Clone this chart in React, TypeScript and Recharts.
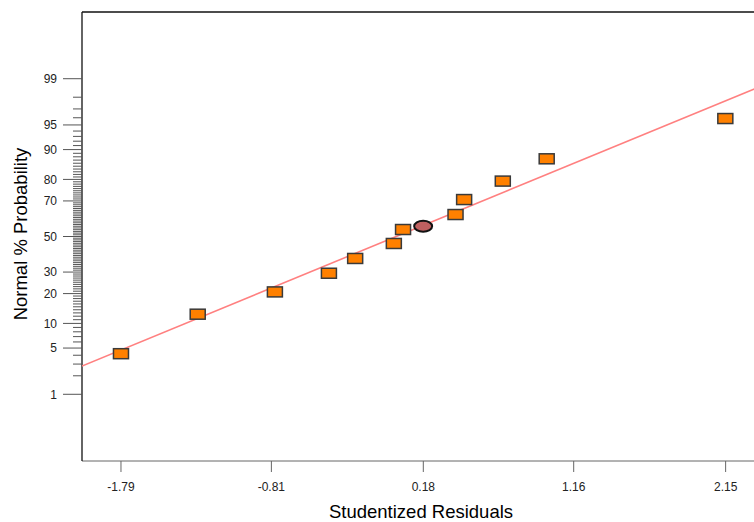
import React from 'react';
import { ComposedChart, Scatter, XAxis, YAxis, ReferenceLine, Label } from 'recharts';

// residuals (x) and normal % probability (y)
const residuals = [-1.79, -1.29, -0.787, -0.435, -0.264, -0.012, 0.048, 0.39, 0.446, 0.698, 0.984, 2.148];
const probabilities = [4.2, 12.6, 20.7, 29.4, 37.3, 45.9, 54.1, 62.7, 70.7, 79.3, 87.4, 95.9];

// highlighted run (drawn as an ellipse)
const highlightResidual = [0.179];
const highlightProbability = [56.0];

// fitted normal line end points
const fitResiduals = [-2.044, 2.4];
const fitProbabilities = [2.81, 98.73];

const xTicks = [-1.79, -0.81, 0.18, 1.16, 2.15];
const majorProbs = [1, 5, 10, 20, 30, 50, 70, 80, 90, 95, 99];

const X_DOMAIN: [number, number] = [-2.044, 2.4];
const Y_DOMAIN: [number, number] = [-3.31, 3.31];

// inverse normal cdf (Acklam)
const probit = (p: number): number => {
  const a = [-39.69683028665376, 220.9460984245205, -275.9285104469687, 138.357751867269, -30.66479806614716, 2.506628277459239];
  const b = [-54.47609879822406, 161.5858368580409, -155.6989798598866, 66.80131188771972, -13.28068155211918];
  const c = [-0.007784894002430293, -0.3223964580411365, -2.400758277161838, -2.549732539343734, 4.374664141464968, 2.938163982698783];
  const d = [0.007784695709041462, 0.3224671290700398, 2.445134137142996, 3.754408661907416];
  const pl = 0.02425;
  if (p < pl) {
    const q = Math.sqrt(-2 * Math.log(p));
    return (((((c[0] * q + c[1]) * q + c[2]) * q + c[3]) * q + c[4]) * q + c[5]) / ((((d[0] * q + d[1]) * q + d[2]) * q + d[3]) * q + 1);
  }
  if (p > 1 - pl) {
    const q = Math.sqrt(-2 * Math.log(1 - p));
    return -(((((c[0] * q + c[1]) * q + c[2]) * q + c[3]) * q + c[4]) * q + c[5]) / ((((d[0] * q + d[1]) * q + d[2]) * q + d[3]) * q + 1);
  }
  const q = p - 0.5;
  const r = q * q;
  return ((((((a[0] * r + a[1]) * r + a[2]) * r + a[3]) * r + a[4]) * r + a[5]) * q) / (((((b[0] * r + b[1]) * r + b[2]) * r + b[3]) * r + b[4]) * r + 1);
};

const toPoints = (xs: number[], ps: number[]) => xs.map((x, i) => ({ x, p: ps[i], z: probit(ps[i] / 100) }));

const points = toPoints(residuals, probabilities);
const highlight = toPoints(highlightResidual, highlightProbability);
const fitLine = toPoints(fitResiduals, fitProbabilities);

// every whole percent gets a minor tick, majors get labels
const yTickList: { p: number; major: boolean; z: number }[] = [];
for (let p = 1; p <= 99; p++) {
  yTickList.push({ p, major: majorProbs.includes(p), z: probit(p / 100) });
}
const yTicks = yTickList.map((t) => t.z);

const font = "'Liberation Sans', Arial, sans-serif";

const ProbTick = (props: any) => {
  const { x, y, payload } = props;
  const t = yTickList.find((k) => Math.abs(k.z - payload.value) < 1e-9);
  if (!t) return null;
  return (
    <g>
      <line x1={x - (t.major ? 19 : 9)} x2={x} y1={y} y2={y} stroke="#555" strokeWidth={1} />
      {t.major && (
        <text x={x - 25} y={y} dy="0.36em" textAnchor="end" fontSize={12} fill="#222" fontFamily={font}>
          {t.p}
        </text>
      )}
    </g>
  );
};

const RectMark = (props: any) => {
  const { cx, cy } = props;
  return <rect x={cx - 7.5} y={cy - 5} width={15} height={10} fill="#ff8000" stroke="#3a3a3a" strokeWidth={1.5} />;
};

const EllipseMark = (props: any) => {
  const { cx, cy } = props;
  return <ellipse cx={cx} cy={cy} rx={9} ry={5.5} fill="#c06060" stroke="#111" strokeWidth={2} />;
};

const NoMark = () => <g />;

export default function App() {
  return (
    <div style={{ position: 'absolute', left: 0, top: 0, width: 754, height: 522, overflow: 'hidden', background: '#fff' }}>
      <ComposedChart width={780} height={522} margin={{ top: 12, right: 16, left: 12, bottom: 21 }}>
        <XAxis
          type="number"
          dataKey="x"
          domain={X_DOMAIN}
          allowDataOverflow
          ticks={xTicks}
          interval={0}
          height={40}
          tickSize={11}
          tickMargin={10}
          stroke="#666"
          tick={{ fill: '#222', fontSize: 12, fontFamily: font }}
          tickFormatter={(v: number) => v.toFixed(2)}
        >
          <Label
            content={() => (
              <text x={421} y={518} textAnchor="middle" fontSize={18.5} fill="#000" fontFamily={font}>
                Studentized Residuals
              </text>
            )}
          />
        </XAxis>
        <YAxis
          type="number"
          dataKey="z"
          domain={Y_DOMAIN}
          allowDataOverflow
          ticks={yTicks}
          interval={0}
          width={70}
          tickSize={0}
          tickMargin={0}
          tickLine={false}
          axisLine={{ stroke: '#111', strokeWidth: 1.3 }}
          tick={<ProbTick />}
        >
          <Label
            content={() => (
              <text x={27} y={234} transform="rotate(-90, 27, 234)" textAnchor="middle" fontSize={18.5} fill="#000" fontFamily={font}>
                Normal % Probability
              </text>
            )}
          />
        </YAxis>
        <ReferenceLine y={Y_DOMAIN[1]} stroke="#111" strokeWidth={1.3} />
        <Scatter
          data={fitLine}
          dataKey="z"
          line={{ stroke: '#ff8080', strokeWidth: 1.6 }}
          shape={<NoMark />}
          isAnimationActive={false}
        />
        <Scatter data={points} dataKey="z" shape={<RectMark />} isAnimationActive={false} />
        <Scatter data={highlight} dataKey="z" shape={<EllipseMark />} isAnimationActive={false} />
      </ComposedChart>
    </div>
  );
}
